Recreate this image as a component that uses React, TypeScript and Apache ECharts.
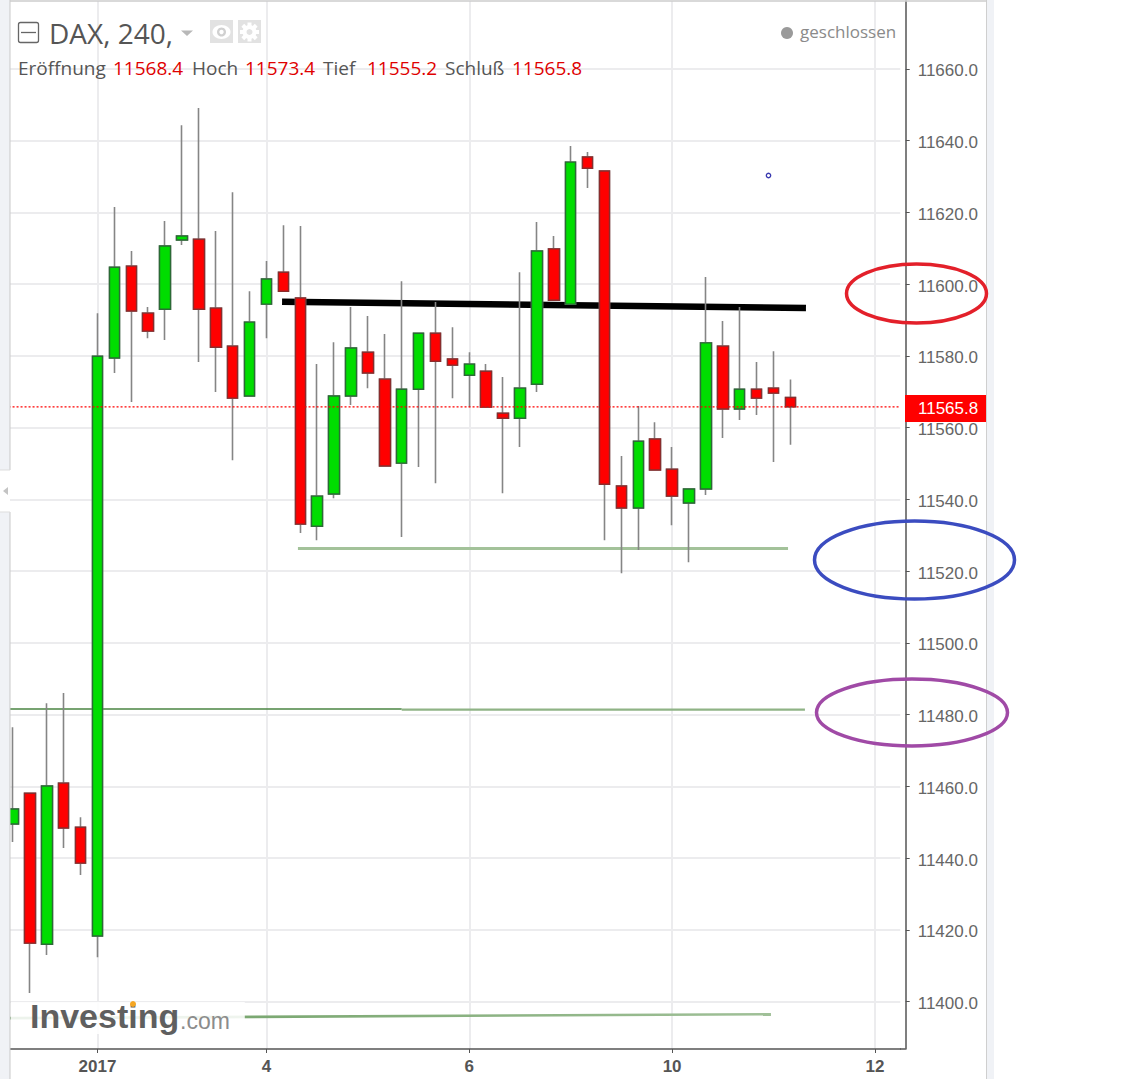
import React, { useEffect, useRef } from "react";
import * as echarts from "echarts";

const opens = [11449.5,11458.1,11416.0,11460.9,11448.6,11418.3,11579.4,11605.0,11591.9,11593.0,11612.3,11612.5,11593.3,11582.7,11568.8,11594.4,11603.3,11596.1,11532.5,11541.5,11568.8,11581.0,11573.5,11550.1,11570.7,11586.3,11579.1,11574.6,11575.7,11564.0,11562.6,11572.1,11609.8,11594.4,11635.4,11631.5,11543.7,11537.6,11556.8,11548.4,11539.0,11542.9,11582.7,11565.2,11570.7,11571.0,11568.4];
const closes = [11453.7,11416.3,11460.1,11448.4,11438.6,11579.9,11604.7,11592.5,11586.9,11610.6,11613.4,11593.0,11582.4,11568.2,11589.4,11601.4,11598.0,11533.1,11540.9,11568.8,11582.2,11575.2,11549.3,11570.7,11586.3,11578.5,11577.4,11577.7,11565.7,11562.6,11571.0,11609.2,11595.5,11634.0,11632.3,11544.2,11537.6,11556.2,11548.2,11540.9,11542.9,11583.6,11565.2,11570.7,11568.2,11569.6,11565.8];
const lows = [11444.5,11402.4,11413.0,11442.8,11435.3,11412.4,11575.2,11567.1,11584.9,11584.4,11610.9,11578.3,11569.9,11550.9,11568.8,11584.9,11598.0,11530.6,11528.6,11540.3,11566.3,11571.0,11549.3,11529.5,11549.0,11544.5,11568.2,11565.7,11565.7,11541.7,11554.6,11569.9,11595.5,11594.4,11626.8,11528.6,11519.4,11525.9,11548.2,11532.8,11522.5,11541.2,11557.1,11562.1,11563.5,11550.4,11555.2];
const highs = [11476.5,11458.1,11483.2,11486.0,11451.4,11591.9,11621.5,11609.2,11593.6,11617.6,11644.3,11649.1,11614.8,11625.6,11598.0,11606.4,11616.4,11616.2,11577.7,11583.8,11593.6,11591.1,11586.1,11600.8,11586.3,11595.0,11588.0,11581.0,11577.7,11574.1,11603.3,11617.3,11613.4,11638.5,11636.8,11631.5,11552.1,11566.0,11561.5,11554.6,11542.9,11602.0,11589.7,11593.6,11578.3,11581.3,11573.4];

const yTicks = [11400,11420,11440,11460,11480,11500,11520,11540,11560,11580,11600,11620,11640,11660];
const dateTicks: Record<number, string> = { 5: "2017", 15: "4", 27: "6", 39: "10", 51: "12" };
const barLabels = Array.from({ length: 53 }, (_, i) => dateTicks[i] ?? "");
const lastClose = 11565.8;

const blackTrend = [[15.92, 11595.1], [46.92, 11593.3]];
const supportUpper = [[16.86, 11526.3], [45.86, 11526.3]];
const supportMiddleLeft = [[-0.18, 11481.6], [23, 11481.6]];
const supportMiddleRight = [[23, 11481.4], [46.86, 11481.4]];
const supportLower = [[-0.18, 11395.4], [44.85, 11396.5]];
const lastPriceLine = [[-0.5, lastClose], [52.5, lastClose]];

const headerLabels = [
  { text: "Eröffnung", x: 18, color: "#555555" },
  { text: "11568.4", x: 113, color: "#e00000" },
  { text: "Hoch", x: 192, color: "#555555" },
  { text: "11573.4", x: 245, color: "#e00000" },
  { text: "Tief", x: 323, color: "#555555" },
  { text: "11555.2", x: 367, color: "#e00000" },
  { text: "Schluß", x: 445, color: "#555555" },
  { text: "11565.8", x: 512, color: "#e00000" },
];

const FONT = "'Open Sans', sans-serif";
const AXIS_FONT = "'Liberation Sans', Arial, sans-serif";
const GRID_COLOR = "#ececee";
const GREEN = "#00dd00";
const RED = "#ff0000";

function chromeElements(): any[] {
  const Z = 100;
  const rect = (x: number, y: number, width: number, height: number, fill: string, z = Z) => ({
    type: "rect", z, silent: true, shape: { x, y, width, height }, style: { fill },
  });
  const line = (x1: number, y1: number, x2: number, y2: number, stroke: string, lineWidth = 1, z = Z) => ({
    type: "line", z, silent: true, shape: { x1, y1, x2, y2 }, style: { stroke, lineWidth },
  });
  const ellipse = (cx: number, cy: number, rx: number, ry: number, stroke: string) => ({
    type: "ellipse", z: Z + 5, silent: true, shape: { cx, cy, rx, ry },
    style: { fill: "transparent", stroke, lineWidth: 3.5 },
  });
  const circle = (cx: number, cy: number, r: number, fill: string, z = Z + 2) => ({
    type: "circle", z, silent: true, shape: { cx, cy, r }, style: { fill },
  });
  const teeth = Array.from({ length: 8 }, (_, k) => {
    const a = (k * Math.PI) / 4;
    return {
      type: "rect", z: Z + 2, silent: true,
      x: 249.5 + Math.sin(a) * 7.5, y: 32 + Math.cos(a) * 7.5, rotation: a,
      shape: { x: -2, y: -2, width: 4, height: 4 }, style: { fill: "#ffffff" },
    };
  });
  return [
    rect(0, 0, 10, 470, "#f0f2f6"),
    rect(0, 470, 10, 42, "#ffffff"),
    rect(0, 512, 10, 567, "#f0f2f6"),
    line(10, 0, 10, 470, "#c9c9c9"),
    line(10, 512, 10, 1079, "#c9c9c9"),
    line(0, 470, 10, 470, "#dddddd"),
    line(0, 512, 10, 512, "#dddddd"),
    { type: "polygon", z: Z, silent: true, shape: { points: [[3, 491], [8, 487], [8, 495]] }, style: { fill: "#c4c4c4" } },
    rect(987, 0, 7, 1079, "#f0f2f6"),
    line(986.5, 0, 986.5, 1079, "#cfcfcf"),
    line(10, 1, 987, 1, "#cccccc", 1.5),
    line(900, 1049, 905.7, 1049, "#555555", 1.5),
    rect(905, 395, 81, 27, RED),
    {
      type: "text", z: Z + 1, silent: true, x: 918, y: 408.5,
      style: { text: lastClose.toFixed(1), fill: "#ffffff", font: `17px ${AXIS_FONT}`, textVerticalAlign: "middle" },
    },
    { type: "rect", z: Z, silent: true, shape: { x: 18.5, y: 22.5, width: 20, height: 20, r: 2 }, style: { fill: "#fff", stroke: "#666666", lineWidth: 1.3 } },
    line(21, 32.5, 36, 32.5, "#666666", 1.3),
    {
      type: "text", z: Z, silent: true, x: 49, y: 33,
      style: { text: "DAX, 240,", fill: "#555555", font: `28px ${FONT}`, textVerticalAlign: "middle" },
    },
    { type: "polygon", z: Z, silent: true, shape: { points: [[181, 30.5], [193, 30.5], [187, 36]] }, style: { fill: "#b8b8b8" } },
    rect(210, 20, 23, 23, "#e2e2e2"),
    { type: "ellipse", z: Z + 1, silent: true, shape: { cx: 221.5, cy: 32, rx: 9, ry: 7 }, style: { fill: "#ffffff" } },
    circle(221.5, 32, 4.5, "#d0d0d0"),
    circle(221.5, 32, 2.2, "#ffffff", Z + 3),
    rect(238, 20, 23, 23, "#e2e2e2"),
    circle(249.5, 32, 7, "#ffffff"),
    ...teeth,
    circle(249.5, 32, 3, "#e2e2e2", Z + 3),
    ...headerLabels.map((h) => ({
      type: "text", z: Z, silent: true, x: h.x, y: 68,
      style: { text: h.text, fill: h.color, font: `19px ${FONT}`, textVerticalAlign: "middle", backgroundColor: "transparent" },
    })),
    circle(787, 33, 6, "#9a9a9a"),
    {
      type: "text", z: Z, silent: true, x: 800, y: 31.5,
      style: { text: "geschlossen", fill: "#8a8a8a", font: `17px ${FONT}`, textVerticalAlign: "middle" },
    },
    rect(10.8, 1002, 234, 32, "rgba(255,255,255,0.88)", 50),
    {
      type: "text", z: 51, silent: true, x: 30, y: 1033,
      style: { text: "Investing", fill: "#5f5f5f", font: `bold 34px ${AXIS_FONT}`, textVerticalAlign: "bottom" },
    },
    { type: "text", z: 51, silent: true, x: 180, y: 1032, style: { text: ".com", fill: "#8c8c8c", font: `23px ${AXIS_FONT}`, textVerticalAlign: "bottom" } },
    circle(133, 1004, 3, "#f5a623", 52),
    ellipse(916.5, 293.5, 70, 29.5, "#e3202a"),
    ellipse(914.5, 560, 100, 39, "#3b4cc0"),
    ellipse(912, 712.5, 95.5, 33.5, "#a04aa6"),
    { type: "circle", z: Z, silent: true, shape: { cx: 768.5, cy: 175.5, r: 2.2 }, style: { fill: "#ffffff", stroke: "#3a3ab0", lineWidth: 1.3 } },
  ];
}

export default function App() {
  const ref = useRef<HTMLDivElement>(null);
  useEffect(() => {
    const chart = echarts.init(ref.current!, undefined, { renderer: "svg" });
    const trendSeries = (data: number[][], color: any, width: number, z = 1, type: any = "solid") => ({
      type: "line", xAxisIndex: 1, yAxisIndex: 0, data, showSymbol: false, symbol: "none", z, silent: true,
      lineStyle: { color, width, type, cap: "butt" },
    });
    const wickBars = opens.map((o, i) => [o, closes[i], lows[i], highs[i]]);
    const bodyBars = opens.map((o, i) => {
      const c = closes[i];
      return [o, c, Math.min(o, c), Math.max(o, c)];
    });
    chart.setOption({
      animation: false,
      backgroundColor: "#ffffff",
      grid: { left: 4.55, top: 1, width: 895.7, height: 1048, containLabel: false },
      xAxis: [
        {
          type: "category",
          data: barLabels,
          boundaryGap: true,
          axisLine: { show: true, lineStyle: { color: "#555555", width: 1.5 } },
          axisTick: { show: true, alignWithLabel: true, length: 4, interval: (_: number, v: string) => v !== "", lineStyle: { color: "#555555" } },
          axisLabel: {
            show: true, interval: (_: number, v: string) => v !== "", margin: 9,
            color: "#555555", fontFamily: AXIS_FONT, fontSize: 17, fontWeight: "bold",
          },
          splitLine: { show: true, alignWithLabel: true, interval: (_: number, v: string) => v !== "", lineStyle: { color: GRID_COLOR, width: 2 } },
        },
        { type: "value", min: -0.5, max: 52.5, show: false, splitLine: { show: false } },
      ],
      yAxis: {
        type: "value",
        position: "right",
        offset: 5.45,
        min: 11386.8,
        max: 11678.9,
        axisLine: { show: true, onZero: false, lineStyle: { color: "#555555", width: 1.5 } },
        axisTick: { show: true, length: 4, customValues: yTicks, lineStyle: { color: "#555555" } },
        axisLabel: {
          show: true, margin: 12, customValues: yTicks,
          formatter: (v: number) => `{tick|${v.toFixed(1)}}`,
          rich: { tick: { color: "#666666", fontFamily: AXIS_FONT, fontSize: 17, padding: [4, 0, 0, 0] } },
        },
        splitLine: { show: true, lineStyle: { color: GRID_COLOR, width: 2 } },
      },
      series: [
        trendSeries(blackTrend, "#000000", 6.5),
        trendSeries(supportUpper, "#a3c29a", 3),
        trendSeries(supportMiddleLeft, "#4a8542", 1.5),
        trendSeries(supportMiddleRight, "#8fb386", 2.4),
        trendSeries(supportLower, { type: "linear", x: 0, y: 0, x2: 1, y2: 0, colorStops: [{ offset: 0, color: "#6a9d60" }, { offset: 1, color: "#a0c098" }] }, 2.6),
        {
          type: "candlestick", data: wickBars, barWidth: 11, z: 2, silent: true,
          itemStyle: { color: "#858585", color0: "#858585", borderColor: "#858585", borderColor0: "#858585", borderWidth: 1.6 },
        },
        {
          type: "candlestick", data: bodyBars, barWidth: 11, z: 3, silent: true,
          itemStyle: { color: GREEN, color0: RED, borderColor: "#2a6b35", borderColor0: "#8a2c2c", borderWidth: 1.4 },
        },
        trendSeries(lastPriceLine, RED, 1.3, 4, [2, 2]),
      ],
      graphic: { elements: chromeElements() },
    });
    return () => chart.dispose();
  }, []);
  return <div ref={ref} style={{ position: "absolute", left: 0, top: 0, width: 1121, height: 1086 }} />;
}
